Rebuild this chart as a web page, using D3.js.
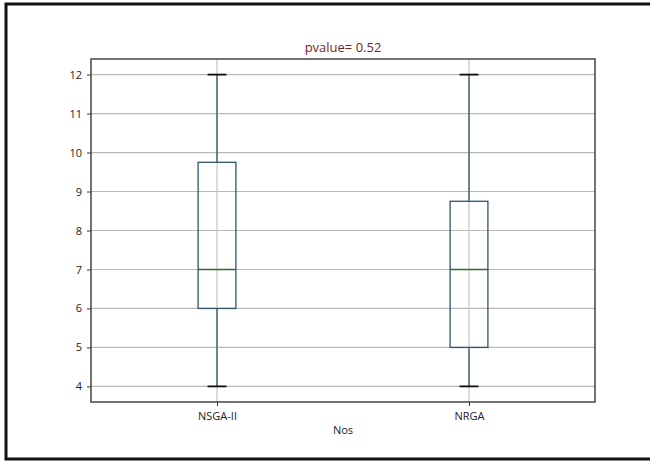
<!DOCTYPE html>
<html>
<head>
<meta charset="utf-8">
<script src="https://cdn.jsdelivr.net/npm/d3@7"></script>
<style>
  body { margin: 0; background: #fff; }
  svg text { font-family: "Open Sans", "DejaVu Sans", sans-serif; }
</style>
</head>
<body>
<div id="chart"></div>
<script>
// box stats
const categories = ["NSGA-II", "NRGA"];
const whiskerLow = [4, 4];
const q1 = [6, 5];
const medians = [7, 7];
const q3 = [9.75, 8.75];
const whiskerHigh = [12, 12];
const yTicks = [4, 5, 6, 7, 8, 9, 10, 11, 12];
const title = "pvalue= 0.52";
const xLabel = "Nos";

const size = {width: 650, height: 461};
const margin = {top: 59, right: 55, bottom: 59, left: 91};
const width = size.width - margin.left - margin.right;
const height = size.height - margin.top - margin.bottom;

const svg = d3.select("#chart").append("svg")
    .attr("width", size.width)
    .attr("height", size.height);

// outer frame (top, left, bottom only)
svg.append("path")
    .attr("d", "M650,4 H6 V459 H650")
    .attr("fill", "none")
    .attr("stroke", "#111")
    .attr("stroke-width", 3);

const g = svg.append("g")
    .attr("transform", `translate(${margin.left},${margin.top})`);

const x = d3.scaleLinear().domain([0.5, 2.5]).range([0, width]);
const y = d3.scaleLinear().domain([3.6, 12.4]).range([height, 0]);

const boxW = 0.15;
const capW = boxW / 2;

// grid
g.append("g").selectAll("line").data(yTicks).join("line")
    .attr("x1", 0).attr("x2", width)
    .attr("y1", d => y(d)).attr("y2", d => y(d))
    .attr("stroke", "#b8b8b8").attr("stroke-width", 1.2);
g.append("g").selectAll("line").data(categories).join("line")
    .attr("x1", (d, i) => x(i + 1)).attr("x2", (d, i) => x(i + 1))
    .attr("y1", 0).attr("y2", height)
    .attr("stroke", "#c4c4c4").attr("stroke-width", 1.2);

// axes
const yAxis = g.append("g")
    .call(d3.axisLeft(y).tickValues(yTicks).tickSize(4).tickPadding(5).tickFormat(d3.format("d")));
const xAxis = g.append("g")
    .attr("transform", `translate(0,${height})`)
    .call(d3.axisBottom(x).tickValues([1, 2]).tickSize(4).tickPadding(6).tickFormat(d => categories[d - 1]));
[yAxis, xAxis].forEach(a => {
    a.select(".domain").remove();
    a.selectAll("text").attr("font-size", 11).attr("fill", "#222");
    a.selectAll("line").attr("stroke", "#333");
});

// boxes
const data = categories.map((c, i) => ({
    pos: i + 1, lo: whiskerLow[i], q1: q1[i], med: medians[i], q3: q3[i], hi: whiskerHigh[i]
}));
const boxColor = "#2f5566";
const boxes = g.append("g").selectAll("g").data(data).join("g");

boxes.append("line")
    .attr("x1", d => x(d.pos)).attr("x2", d => x(d.pos))
    .attr("y1", d => y(d.hi)).attr("y2", d => y(d.q3))
    .attr("stroke", boxColor).attr("stroke-width", 1.3);
boxes.append("line")
    .attr("x1", d => x(d.pos)).attr("x2", d => x(d.pos))
    .attr("y1", d => y(d.q1)).attr("y2", d => y(d.lo))
    .attr("stroke", boxColor).attr("stroke-width", 1.3);
boxes.append("rect")
    .attr("x", d => x(d.pos - boxW / 2))
    .attr("width", d => x(d.pos + boxW / 2) - x(d.pos - boxW / 2))
    .attr("y", d => y(d.q3))
    .attr("height", d => y(d.q1) - y(d.q3))
    .attr("fill", "none").attr("stroke", boxColor).attr("stroke-width", 1.3);
boxes.append("line")
    .attr("x1", d => x(d.pos - boxW / 2)).attr("x2", d => x(d.pos + boxW / 2))
    .attr("y1", d => y(d.med)).attr("y2", d => y(d.med))
    .attr("stroke", "#2e6b2e").attr("stroke-width", 1.3);
["lo", "hi"].forEach(k => {
    boxes.append("line")
        .attr("x1", d => x(d.pos - capW / 2)).attr("x2", d => x(d.pos + capW / 2))
        .attr("y1", d => y(d[k])).attr("y2", d => y(d[k]))
        .attr("stroke", "#111").attr("stroke-width", 1.8);
});

// axes frame
g.append("rect")
    .attr("width", width).attr("height", height)
    .attr("fill", "none").attr("stroke", "#444").attr("stroke-width", 1.5);

// title and label
svg.append("text")
    .attr("x", margin.left + width / 2).attr("y", 52)
    .attr("text-anchor", "middle")
    .attr("font-size", 13).attr("fill", "#7a1f24")
    .text(title);
svg.append("text")
    .attr("x", margin.left + width / 2).attr("y", 434)
    .attr("text-anchor", "middle")
    .attr("font-size", 11).attr("fill", "#222")
    .text(xLabel);
</script>
</body>
</html>
